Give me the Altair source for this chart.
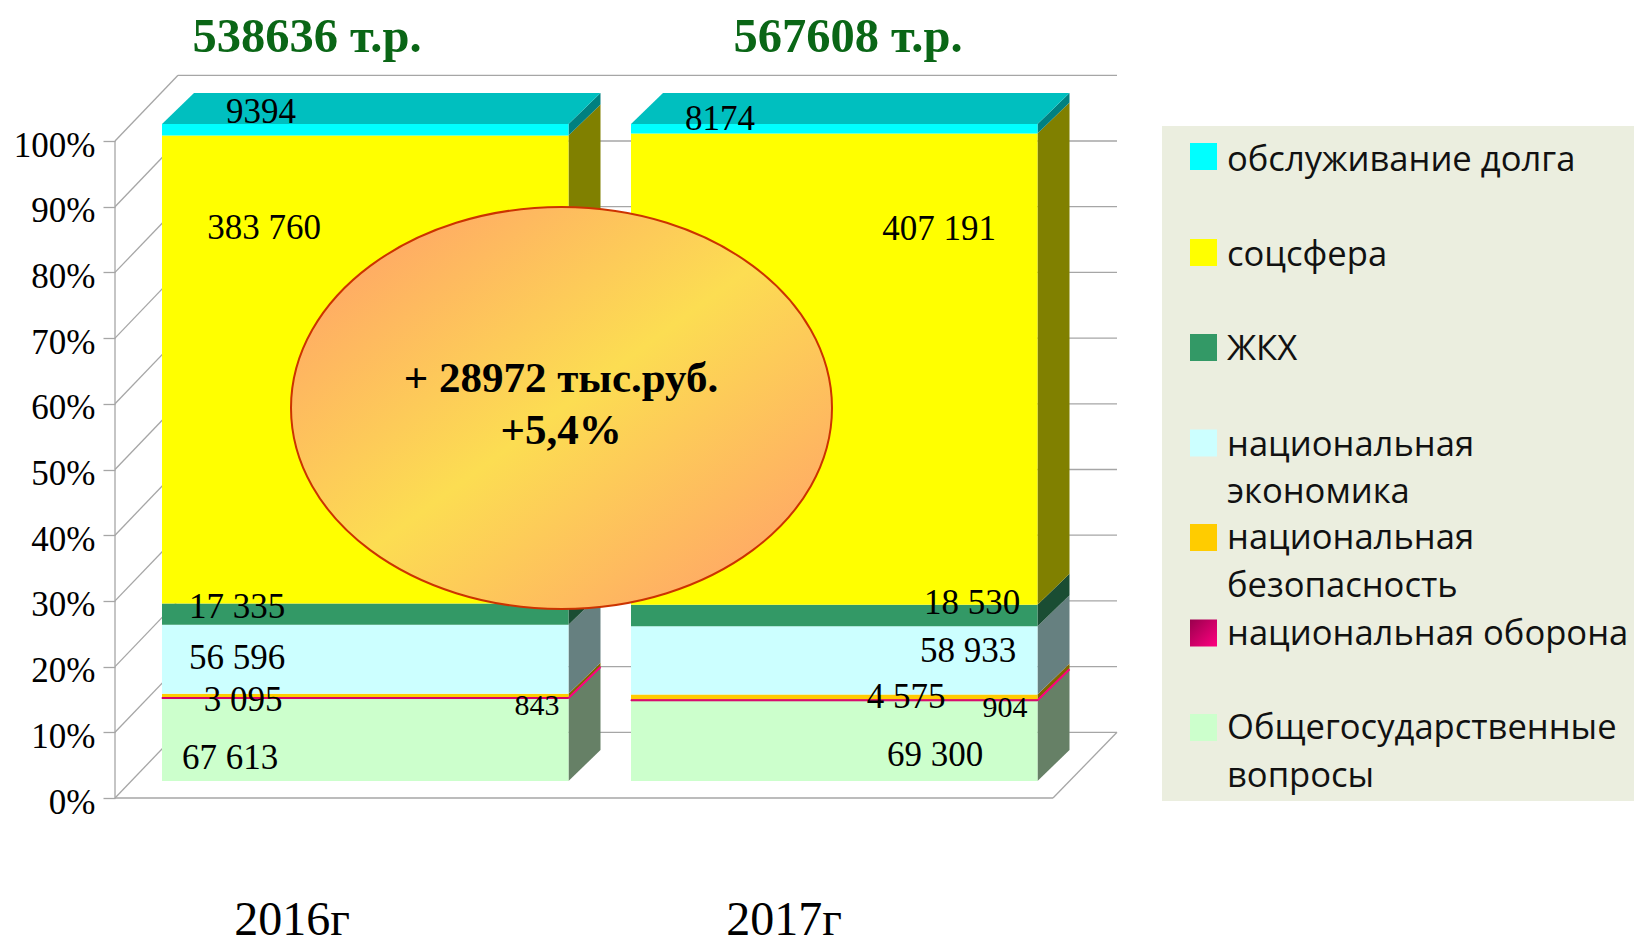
import altair as alt
import pandas as pd

# ---------- data ----------
years = ["2016г", "2017г"]
totals_text = ["538636 т.р.", "567608 т.р."]
series = ["Общегосударственные вопросы", "национальная оборона", "национальная безопасность",
          "национальная экономика", "ЖКХ", "соцсфера", "обслуживание долга"]
values_2016 = [67613, 843, 3095, 56596, 17335, 383760, 9394]
values_2017 = [69300, 904, 4575, 58933, 18530, 407191, 8174]
labels_2016 = ["67 613", "843", "3 095", "56 596", "17 335", "383 760", "9394"]
labels_2017 = ["69 300", "904", "4 575", "58 933", "18 530", "407 191", "8174"]
ticks = [0, 10, 20, 30, 40, 50, 60, 70, 80, 90, 100]
callout = ["+ 28972 тыс.руб.", "+5,4%"]
legend_order = [6, 5, 4, 3, 2, 1, 0]
legend_lines = [["обслуживание долга"], ["соцсфера"], ["ЖКХ"], ["национальная", "экономика"],
                ["национальная", "безопасность"], ["национальная оборона"],
                ["Общегосударственные", "вопросы"]]

# ---------- style ----------
front = ["#CCFFCC", "#D60068", "#FFCC00", "#CCFFFF", "#339966", "#FFFF00", "#00FFFF"]
side = ["#668066", "#FF0080", "#806600", "#668080", "#1A4D33", "#808000", "#008080"]
top_face = "#00BFBF"
grid = "#A6A6A6"
SERIF = "Liberation Serif"
SANS = "Open Sans"

# ---------- layout (page pixels) ----------
PW, PH = 1626, 938
Y0, Y100 = 798, 141
PX = (Y0 - Y100) / 100
def ypct(p):
    return (Y0 - p) / PX
wall_l, wall_back, wall_r, floor_r = 115, 178, 1117, 1053
wall_dy = 10
xs = alt.Scale(domain=[8, 8 + PW], range=[0, PW], nice=False, zero=False)
ys = alt.Scale(domain=[ypct(8 + PH), ypct(8)], range=[PH, 0], nice=False, zero=False)
AX = alt.Axis(values=ticks, labelExpr="datum.value + '%'", offset=-(wall_l - 8), title=None,
              domain=False, grid=False, tickColor=grid, tickSize=12, tickWidth=1.3,
              labelFont=SERIF, labelFontSize=35, labelColor="#000000",
              labelPadding=8, labelOffset=4)
X = lambda f: alt.X(f, type="quantitative", scale=xs, axis=None)
Y = lambda f: alt.Y(f, type="quantitative", scale=ys, axis=AX)

bar_left = [162, 631]
bar_w = 406.5
bar_base = ypct(781)
dx, dy = 32, 31 / PX
label_dx = [[68, 375, 81, 75, 75, 102, 99], [304, 374, 275, 337, 341, 308, 89]]
label_nudge = [[18, 8, 4, -1, -7, -141.5, -18], [14, 8, 0, -9, -12.5, -140, -10]]

# ---------- tables ----------
seg, sides, labels, pink_edge = [], [], [], []
for b, vals in enumerate([values_2016, values_2017]):
    tot = sum(vals)
    cum = 0
    L, R = bar_left[b], bar_left[b] + bar_w
    text = [labels_2016, labels_2017][b]
    for i, v in enumerate(vals):
        y0 = bar_base + cum / tot * 100
        cum += v
        y1 = bar_base + cum / tot * 100
        seg.append(dict(x0=L, x1=R, y0=y0, y1=y1, color=front[i], s=series[i]))
        key = f"{b}-{i}"
        sides.append(dict(x=R, y=y0, y2=y1, key=key, color=side[i]))
        sides.append(dict(x=R + dx, y=y0 + dy, y2=y1 + dy, key=key, color=side[i]))
        if i == 1:
            pink_edge.append(dict(x=R, x2=R + dx, y=(y0 + y1) / 2, y2=(y0 + y1) / 2 + dy))
        mid = (y0 + y1) / 2
        labels.append(dict(x=L + label_dx[b][i], y=mid - label_nudge[b][i] / PX, t=text[i],
                           small=i == 1))
seg = pd.DataFrame(seg); sides = pd.DataFrame(sides); labels = pd.DataFrame(labels)
pink_edge = pd.DataFrame(pink_edge)
seg_plain = seg[seg.s != series[1]]
seg_thin = seg[seg.s == series[1]]

tops = []
for b in range(2):
    L, R = bar_left[b], bar_left[b] + bar_w
    t = bar_base + 100
    tops.append(dict(y=t, x=L, x2=R, key=b))
    tops.append(dict(y=t + dy, x=L + dx, x2=R + dx, key=b))
tops = pd.DataFrame(tops)

# ---------- walls ----------
back = pd.DataFrame([dict(x=wall_back, x2=wall_r, y=t + wall_dy) for t in ticks])
slant = pd.DataFrame([dict(x=wall_l, x2=wall_back, y=t, y2=t + wall_dy) for t in ticks])
edges = pd.DataFrame([dict(x=wall_l, x2=floor_r, y=0, y2=0),
                      dict(x=floor_r, x2=wall_r, y=0, y2=wall_dy),
                      dict(x=wall_l, x2=wall_l, y=0, y2=100)])

rule_style = dict(color=grid, strokeWidth=1.3)
back_l = alt.Chart(back).mark_rule(**rule_style).encode(x=X("x"), x2="x2:Q", y=Y("y"))
slant_l = alt.Chart(slant).mark_rule(**rule_style).encode(x=X("x"), x2="x2:Q", y=Y("y"), y2="y2:Q")
edge_l = alt.Chart(edges).mark_rule(**rule_style).encode(x=X("x"), x2="x2:Q", y=Y("y"), y2="y2:Q")

# ---------- bars ----------
side_l = alt.Chart(sides).mark_area(orient="vertical").encode(
    x=X("x"), y=Y("y"), y2="y2:Q", detail="key:N", fill=alt.Fill("color:N", scale=None))
pink_l = alt.Chart(pink_edge).mark_rule(color=side[1], strokeWidth=2).encode(
    x=X("x"), x2="x2:Q", y=Y("y"), y2="y2:Q")
top_l = alt.Chart(tops).mark_area(orient="horizontal", color=top_face).encode(
    y=Y("y"), x=X("x"), x2="x2:Q", detail="key:N")
front_l = alt.Chart(seg_plain).mark_rect().encode(
    x=X("x0"), x2="x1:Q", y=Y("y0"), y2="y1:Q", fill=alt.Fill("color:N", scale=None))
thin_l = alt.Chart(seg_thin).mark_rect(stroke=front[1], strokeWidth=1).encode(
    x=X("x0"), x2="x1:Q", y=Y("y0"), y2="y1:Q", fill=alt.Fill("color:N", scale=None))

lab_big = alt.Chart(labels[~labels.small]).mark_text(font=SERIF, fontSize=35, color="#000000").encode(
    x=X("x"), y=Y("y"), text="t:N")
lab_small = alt.Chart(labels[labels.small]).mark_text(font=SERIF, fontSize=30, color="#000000").encode(
    x=X("x"), y=Y("y"), text="t:N")

# ---------- titles ----------
head = pd.DataFrame(dict(x=[307, 848], y=[ypct(51.5), ypct(51.5)], t=totals_text))
head_l = alt.Chart(head).mark_text(font=SERIF, fontSize=48.5, fontWeight="bold", color="#0A6616",
                                   baseline="alphabetic").encode(x=X("x"), y=Y("y"), text="t:N")
yr = pd.DataFrame(dict(x=[292, 784], y=[ypct(935), ypct(935)], t=years))
yr_l = alt.Chart(yr).mark_text(font=SERIF, fontSize=48, color="#000000",
                               baseline="alphabetic").encode(x=X("x"), y=Y("y"), text="t:N")

# ---------- call-out ----------
ELLIPSE = "M -1 0 A 1 0.743 0 1 1 1 0 A 1 0.743 0 1 1 -1 0 Z"
grad = alt.Gradient(gradient="linear", x1=0.1, y1=0.1, x2=0.9, y2=0.9,
                    stops=[alt.GradientStop(color="#FFA766", offset=0),
                           alt.GradientStop(color="#FCDD52", offset=0.5),
                           alt.GradientStop(color="#FFA766", offset=1)])
ell = pd.DataFrame(dict(x=[561.5], y=[ypct(408)]))
ell_l = alt.Chart(ell).mark_point(shape=ELLIPSE, size=541 ** 2, filled=True, fill=grad, opacity=1,
                                  stroke="#CC3300", strokeWidth=2).encode(x=X("x"), y=Y("y"))
call = pd.DataFrame(dict(x=[561, 561], y=[ypct(392), ypct(444)], t=callout))
call_l = alt.Chart(call).mark_text(font=SERIF, fontSize=43, fontWeight="bold", color="#000000",
                                   baseline="alphabetic").encode(x=X("x"), y=Y("y"), text="t:N")

# ---------- legend ----------
panel = pd.DataFrame(dict(x=[1162], x2=[8 + PW], y=[ypct(801)], y2=[ypct(126)]))
panel_l = alt.Chart(panel).mark_rect(color="#EBEEDF").encode(x=X("x"), x2="x2:Q", y=Y("y"), y2="y2:Q")
sw_cy = [156.5, 252.5, 347.5, 443, 537.5, 633, 727.5]
sw = pd.DataFrame([dict(x=1190, x2=1217, y=ypct(c + 13.5), y2=ypct(c - 13.5), color=front[i])
                   for c, i in zip(sw_cy, legend_order) if i != 1])
sw_l = alt.Chart(sw).mark_rect().encode(x=X("x"), x2="x2:Q", y=Y("y"), y2="y2:Q",
                                        fill=alt.Fill("color:N", scale=None))
pink = alt.Gradient(gradient="linear", x1=0, y1=0, x2=1, y2=1,
                    stops=[alt.GradientStop(color="#99004D", offset=0),
                           alt.GradientStop(color="#FF0080", offset=1)])
sw_pink = pd.DataFrame(dict(x=[1190], x2=[1217], y=[ypct(633 + 13.5)], y2=[ypct(633 - 13.5)]))
sw_pink_l = alt.Chart(sw_pink).mark_rect(fill=pink).encode(x=X("x"), x2="x2:Q", y=Y("y"), y2="y2:Q")
line_cy = [[160.5], [255.5], [350], [446, 493], [539, 587], [635], [729, 777]]
leg = pd.DataFrame([dict(x=1227, y=ypct(c), t=t) for ls, cs in zip(legend_lines, line_cy)
                    for t, c in zip(ls, cs)])
leg_l = alt.Chart(leg).mark_text(font=SANS, fontSize=34.6, color="#111111", align="left").encode(
    x=X("x"), y=Y("y"), text="t:N")

chart = alt.layer(back_l, slant_l, edge_l, side_l, pink_l, top_l, front_l, thin_l,
                  lab_big, lab_small, head_l, yr_l, ell_l, call_l,
                  panel_l, sw_l, sw_pink_l, leg_l).properties(
    width=PW, height=PH, padding=0, background="#FFFFFF",
    autosize=alt.AutoSizeParams(type="none")
).configure_view(strokeWidth=0)

chart.save("out.html", embed_options={"renderer": "svg", "actions": False})
